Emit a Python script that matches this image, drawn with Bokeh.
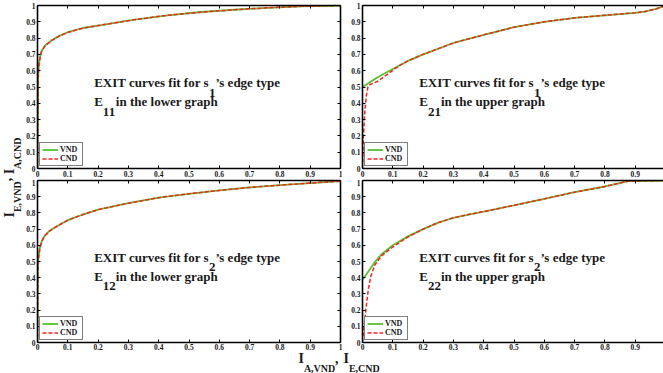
import math
from bokeh.plotting import figure
from bokeh.models import Range1d, LinearAxis, FixedTicker, Label
from bokeh.layouts import row, column
from bokeh.embed import file_html
from bokeh.resources import INLINE

# ---------------- data ----------------
ticks = [0, 0.1, 0.2, 0.3, 0.4, 0.5, 0.6, 0.7, 0.8, 0.9, 1]
tick_labels = ["0", "0.1", "0.2", "0.3", "0.4", "0.5", "0.6", "0.7", "0.8", "0.9", "1"]

# E11 (s1, lower graph)
e11_x_vnd = [0, 0.002, 0.004, 0.008, 0.013, 0.025, 0.046, 0.07, 0.1, 0.15, 0.21, 0.32, 0.43, 0.54, 0.65, 0.76, 0.87, 1.0]
e11_vnd = [0, 0.55, 0.63, 0.68, 0.72, 0.755, 0.785, 0.812, 0.836, 0.862, 0.88, 0.914, 0.94, 0.96, 0.974, 0.986, 0.995, 1.0]
e11_x_cnd = [0, 0.002, 0.004, 0.008, 0.013, 0.025, 0.046, 0.07, 0.1, 0.15, 0.21, 0.32, 0.43, 0.54, 0.65, 0.76, 0.87, 1.0]
e11_cnd = [0, 0.54, 0.62, 0.675, 0.715, 0.752, 0.784, 0.811, 0.835, 0.861, 0.88, 0.913, 0.94, 0.959, 0.974, 0.986, 0.995, 1.0]

# E21 (s1, upper graph)
e21_x_vnd = [0, 0.05, 0.1, 0.15, 0.2, 0.3, 0.4, 0.5, 0.6, 0.7, 0.8, 0.9, 0.93, 0.97, 1.0]
e21_vnd = [0.5, 0.56, 0.61, 0.66, 0.70, 0.77, 0.82, 0.867, 0.90, 0.924, 0.94, 0.955, 0.962, 0.98, 1.0]
e21_x_cnd = [0, 0.003, 0.008, 0.013, 0.018, 0.025, 0.05, 0.08, 0.12, 0.15, 0.2, 0.3, 0.4, 0.5, 0.6, 0.7, 0.8, 0.9, 0.93, 0.97, 1.0]
e21_cnd = [0, 0.2, 0.36, 0.45, 0.5, 0.515, 0.535, 0.575, 0.63, 0.66, 0.70, 0.77, 0.82, 0.867, 0.90, 0.924, 0.94, 0.955, 0.962, 0.98, 1.0]

# E12 (s2, lower graph)
e12_x_vnd = [0, 0.001, 0.003, 0.008, 0.015, 0.024, 0.04, 0.057, 0.08, 0.1, 0.15, 0.2, 0.3, 0.4, 0.5, 0.6, 0.7, 0.8, 0.9, 1.0]
e12_vnd = [0, 0.44, 0.52, 0.59, 0.63, 0.66, 0.69, 0.71, 0.735, 0.755, 0.79, 0.82, 0.86, 0.894, 0.918, 0.939, 0.957, 0.971, 0.984, 0.996]
e12_x_cnd = [0, 0.001, 0.003, 0.008, 0.015, 0.024, 0.04, 0.057, 0.08, 0.1, 0.15, 0.2, 0.3, 0.4, 0.5, 0.6, 0.7, 0.8, 0.9, 1.0]
e12_cnd = [0, 0.43, 0.515, 0.585, 0.627, 0.658, 0.688, 0.709, 0.734, 0.755, 0.79, 0.82, 0.86, 0.894, 0.918, 0.939, 0.957, 0.971, 0.984, 0.996]

# E22 (s2, upper graph)
e22_x_vnd = [0, 0.02, 0.04, 0.063, 0.1, 0.15, 0.2, 0.25, 0.3, 0.35, 0.4, 0.5, 0.6, 0.7, 0.8, 0.88, 1.0]
e22_vnd = [0.387, 0.44, 0.495, 0.545, 0.60, 0.655, 0.70, 0.74, 0.77, 0.79, 0.808, 0.847, 0.887, 0.928, 0.963, 0.997, 1.0]
e22_x_cnd = [0, 0.005, 0.011, 0.019, 0.027, 0.041, 0.063, 0.1, 0.15, 0.2, 0.25, 0.3, 0.35, 0.4, 0.5, 0.6, 0.7, 0.8, 0.88, 1.0]
e22_cnd = [0, 0.10, 0.20, 0.325, 0.407, 0.48, 0.535, 0.59, 0.652, 0.70, 0.74, 0.77, 0.79, 0.808, 0.847, 0.887, 0.928, 0.963, 0.997, 1.0]

FONT = "Liberation Serif"
GREEN = "#55c032"
RED = "#ff2020"
INK = "#1a1a1a"


def make_axis(hidden=False, standoff=2):
    ax = LinearAxis(ticker=FixedTicker(ticks=ticks),
                    major_label_overrides=dict(zip(ticks, tick_labels)))
    ax.axis_line_color = "black"
    ax.axis_line_width = 1.6
    ax.major_tick_line_color = "black"
    ax.major_tick_line_width = 1
    ax.major_tick_in = 3
    ax.major_tick_out = 0
    ax.minor_tick_line_color = None
    ax.major_label_standoff = standoff
    ax.major_label_text_font = FONT
    ax.major_label_text_font_style = "bold"
    ax.major_label_text_font_size = "7.5px"
    ax.major_label_text_color = INK
    if hidden:
        ax.major_label_text_font_size = "0px"
        ax.major_label_text_color = None
        ax.major_label_standoff = 0
    return ax


def panel(xv, yv, xc, yc, left_col, top_row, sub_s, sub_e, where):
    if left_col:
        width, mbl, mbr, x_end = 319, 13, 2, 1.0
    else:
        width, mbl, mbr, x_end = 321, 20, 0, 0.993
    if top_row:
        height, mbt, mbb, so = 179, 5, 11, 2
    else:
        height, mbt, mbb, so = 173, 1, 9, 1
    p = figure(width=width, height=height, x_range=Range1d(0, x_end), y_range=Range1d(0, 1),
               x_axis_type=None, y_axis_type=None, toolbar_location=None, output_backend="svg",
               min_border_left=mbl, min_border_right=mbr, min_border_top=mbt, min_border_bottom=mbb)
    p.outline_line_color = None
    p.background_fill_color = "white"
    p.border_fill_color = "white"
    p.add_layout(make_axis(standoff=so), "below")
    p.add_layout(make_axis(), "left")
    p.add_layout(make_axis(hidden=True), "above")
    if left_col:
        p.add_layout(make_axis(hidden=True), "right")

    p.line(xv, yv, line_color=GREEN, line_width=1.8, legend_label="VND")
    p.line(xc, yc, line_color=RED, line_width=1.5, line_dash="4 2", legend_label="CND")

    lg = p.legend[0]
    lg.location = "bottom_left"
    lg.margin = 2
    lg.padding = 2
    lg.spacing = 0
    lg.label_height = 9
    lg.glyph_height = 9
    lg.glyph_width = 16
    lg.label_standoff = 2
    lg.label_text_font = FONT
    lg.label_text_font_style = "bold"
    lg.label_text_font_size = "8px"
    lg.label_text_color = INK
    lg.border_line_color = "black"
    lg.border_line_width = 1.5
    lg.background_fill_color = "white"
    lg.background_fill_alpha = 1

    style = dict(text_font=FONT, text_font_style="bold", text_font_size="13px",
                 text_color=INK, text_baseline="alphabetic", text_align="left")
    x0, y1, y2 = 0.187, 0.527, 0.41
    p.add_layout(Label(x=x0, y=y1, text="EXIT curves fit for s", **style))
    p.add_layout(Label(x=x0, y=y1, x_offset=114.8, y_offset=-10, text=sub_s, **style))
    p.add_layout(Label(x=x0, y=y1, x_offset=121.3, text="\u2019s edge type", **style))
    p.add_layout(Label(x=x0, y=y2, text="E", **style))
    p.add_layout(Label(x=x0, y=y2, x_offset=8.7, y_offset=-10, text=sub_e, **style))
    p.add_layout(Label(x=x0, y=y2, x_offset=21.7, text=" in the " + where + " graph", **style))
    return p


tl = panel(e11_x_vnd, e11_vnd, e11_x_cnd, e11_cnd, True, True, "1", "11", "lower")
tr = panel(e21_x_vnd, e21_vnd, e21_x_cnd, e21_cnd, False, True, "1", "21", "upper")
bl = panel(e12_x_vnd, e12_vnd, e12_x_cnd, e12_cnd, True, False, "2", "12", "lower")
br = panel(e22_x_vnd, e22_vnd, e22_x_cnd, e22_cnd, False, False, "2", "22", "upper")

big = dict(text_font=FONT, text_font_style="bold", text_font_size="14px", text_color=INK,
           text_baseline="alphabetic", text_align="left")
small = dict(text_font=FONT, text_font_style="bold", text_font_size="10px", text_color=INK,
             text_baseline="alphabetic", text_align="left")

# x label strip: "I_{A,VND}, I_{E,CND}" (data units = window pixels, y measured up from the bottom)
xstrip = figure(width=640, height=21, x_range=Range1d(23, 663), y_range=Range1d(0, 21),
                x_axis_type=None, y_axis_type=None, toolbar_location=None, output_backend="svg",
                min_border=0)
xstrip.outline_line_color = None
xstrip.border_fill_color = "white"
xstrip.background_fill_color = "white"
xstrip.add_layout(Label(x=298, y=15.2, text="I", **big))
xstrip.add_layout(Label(x=303.4, y=5.5, text="A,VND", **small))
xstrip.add_layout(Label(x=334.5, y=15.2, text=",", **big))
xstrip.add_layout(Label(x=343, y=15.2, text="I", **big))
xstrip.add_layout(Label(x=348.4, y=5.5, text="E,CND", **small))

# y label strip: "I_{E,VND}, I_{A,CND}" rotated
strip = figure(width=23, height=373, x_range=Range1d(0, 23), y_range=Range1d(0, 373),
               x_axis_type=None, y_axis_type=None, toolbar_location=None, output_backend="svg",
               min_border=0)
strip.outline_line_color = None
strip.border_fill_color = "white"
strip.background_fill_color = "white"
ang = math.pi / 2
strip.add_layout(Label(x=8.8, y=156, angle=ang, text="I", **big))
strip.add_layout(Label(x=17.3, y=161.4, angle=ang, text="E,VND", **small))
strip.add_layout(Label(x=5.8, y=192.2, angle=ang, text=",", **big))
strip.add_layout(Label(x=8.8, y=199.2, angle=ang, text="I", **big))
strip.add_layout(Label(x=17.3, y=204.6, angle=ang, text="A,CND", **small))

layout = row(strip, column(row(tl, tr), row(bl, br), xstrip))

open("out.html", "w").write(file_html(layout, INLINE))
